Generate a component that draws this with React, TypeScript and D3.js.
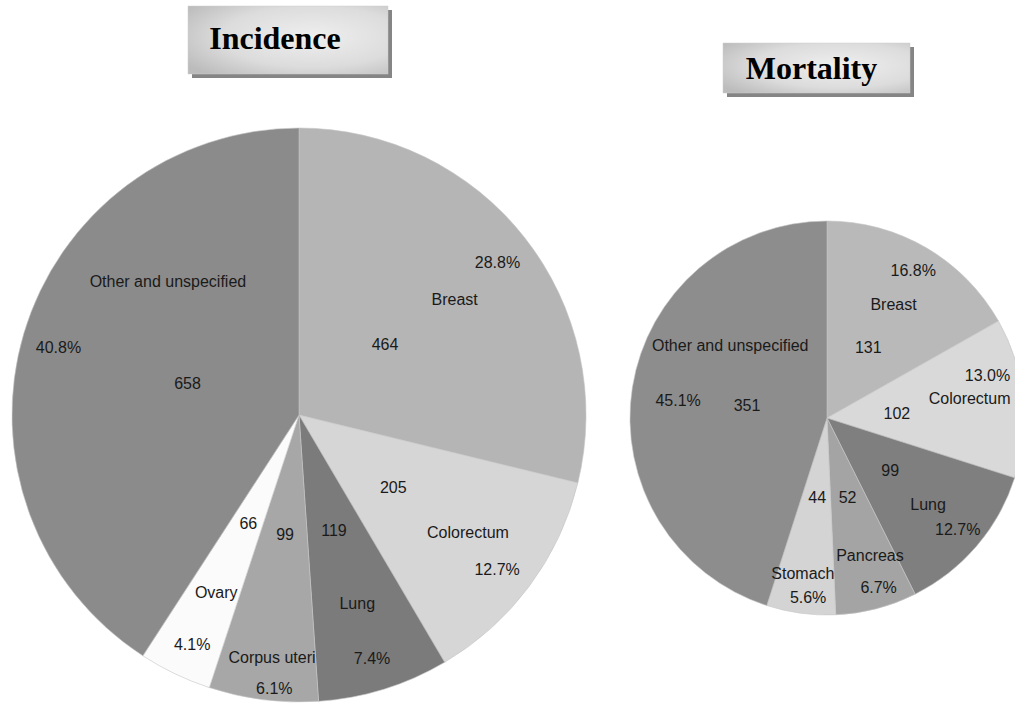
import React from "react";
import * as d3 from "d3";

// ---------- data ----------
const incCategories = ["Breast", "Colorectum", "Lung", "Corpus uteri", "Ovary", "Other and unspecified"];
const incValues = [464, 205, 119, 99, 66, 658];
const incPercents = ["28.8%", "12.7%", "7.4%", "6.1%", "4.1%", "40.8%"];

const morCategories = ["Breast", "Colorectum", "Lung", "Pancreas", "Stomach", "Other and unspecified"];
const morValues = [131, 102, 99, 52, 44, 351];
const morPercents = ["16.8%", "13.0%", "12.7%", "6.7%", "5.6%", "45.1%"];

// ---------- styles / layout ----------
const incColors = ["#b5b5b5", "#d6d6d6", "#7b7b7b", "#a7a7a7", "#fbfbfb", "#8b8b8b"];
const morColors = ["#b9b9b9", "#d9d9d9", "#7f7f7f", "#a4a4a4", "#d4d4d4", "#8d8d8d"];

// label placement per slice: [valueR, valueDA, nameR, nameDA, pctR, pctDA] (radius px, angle offset deg)
const incLabelLayout = [
  [111, -1, 194, 1.5, 250, 0.7],
  [119, 1, 206, -1.7, 251, 1.3],
  [121, 0.4, 197, 0, 254, 0.5],
  [120, -0.5, 244, -0.8, 275, -2],
  [120, -0.6, 196, -0.6, 253, -0.6],
  [116, -0.5, 187, 29, 250, -0.7],
];
const morLabelLayout = [
  [82, 0, 132, 0, 171, 0],
  [70, 2, 144, -2, 166, -9],
  [82, -1, 133, 0, 172, 0],
  [82, 0, 144, -2.8, 177, -2.4],
  [80, -0.6, 157, 1.2, 180, -1.6],
  [81, 0, 121, 28, 150, -2],
];

interface PieProps {
  cx: number;
  cy: number;
  r: number;
  categories: string[];
  values: number[];
  percents: string[];
  colors: string[];
  layout: number[][];
}

function Pie({ cx, cy, r, categories, values, percents, colors, layout }: PieProps) {
  const pie = d3.pie<number>().sort(null).value((d) => d);
  const arcs = pie(values);
  const arc = d3.arc<d3.PieArcDatum<number>>().innerRadius(0).outerRadius(r);
  const pos = (rad: number, ang: number) => {
    const a = (ang * Math.PI) / 180;
    return [rad * Math.sin(a), -rad * Math.cos(a)];
  };
  return (
    <g transform={`translate(${cx},${cy})`}>
      {arcs.map((a, i) => (
        <path key={i} d={arc(a) || ""} fill={colors[i]} stroke="#c4c4c4" strokeWidth={0.6} />
      ))}
      {arcs.map((a, i) => {
        const mid = (((a.startAngle + a.endAngle) / 2) * 180) / Math.PI;
        const L = layout[i];
        const [vx, vy] = pos(L[0], mid + L[1]);
        const [nx, ny] = pos(L[2], mid + L[3]);
        const [px, py] = pos(L[4], mid + L[5]);
        const ts = {
          fontFamily: "'Liberation Sans', Arial, sans-serif",
          fontSize: 16,
          fill: "#1a1a1a",
          textAnchor: "middle" as const,
          dominantBaseline: "central" as const,
        };
        return (
          <g key={"l" + i}>
            <text x={vx} y={vy} style={ts}>{values[i]}</text>
            <text x={nx} y={ny} style={ts}>{categories[i]}</text>
            <text x={px} y={py} style={ts}>{percents[i]}</text>
          </g>
        );
      })}
    </g>
  );
}

function TitleBox({ x, y, w, h, text, id, dx, dy }: { x: number; y: number; w: number; h: number; text: string; id: string; dx: number; dy: number }) {
  return (
    <g>
      <defs>
        <radialGradient id={id} cx="0.62" cy="0.45" r="0.75">
          <stop offset="0%" stopColor="#efefef" />
          <stop offset="60%" stopColor="#dcdcdc" />
          <stop offset="100%" stopColor="#bcbcbc" />
        </radialGradient>
      </defs>
      <rect x={x + 4} y={y + 4} width={w} height={h} fill="#858585" />
      <rect x={x} y={y} width={w} height={h} fill={`url(#${id})`} stroke="#cfcfcf" strokeWidth={0.5} />
      <text
        x={x + w / 2 + dx}
        y={y + h / 2 + dy}
        textAnchor="middle"
        style={{ fontFamily: "'Liberation Serif', 'Times New Roman', serif", fontWeight: "bold", fontSize: 32, fill: "#000" }}
      >
        {text}
      </text>
    </g>
  );
}

export default function App() {
  return (
    <svg width={1015} height={704} style={{ position: "absolute", left: 0, top: 0, background: "#fff" }}>
      <rect width={1015} height={704} fill="#fff" />
      <TitleBox x={188} y={6} w={200} h={68} text="Incidence" id="g1" dx={-13} dy={9} />
      <TitleBox x={723} y={43} w={187} h={50} text="Mortality" id="g2" dx={-5} dy={11} />
      <Pie
        cx={299}
        cy={415}
        r={287}
        categories={incCategories}
        values={incValues}
        percents={incPercents}
        colors={incColors}
        layout={incLabelLayout}
      />
      <Pie
        cx={827}
        cy={418}
        r={197}
        categories={morCategories}
        values={morValues}
        percents={morPercents}
        colors={morColors}
        layout={morLabelLayout}
      />
    </svg>
  );
}
